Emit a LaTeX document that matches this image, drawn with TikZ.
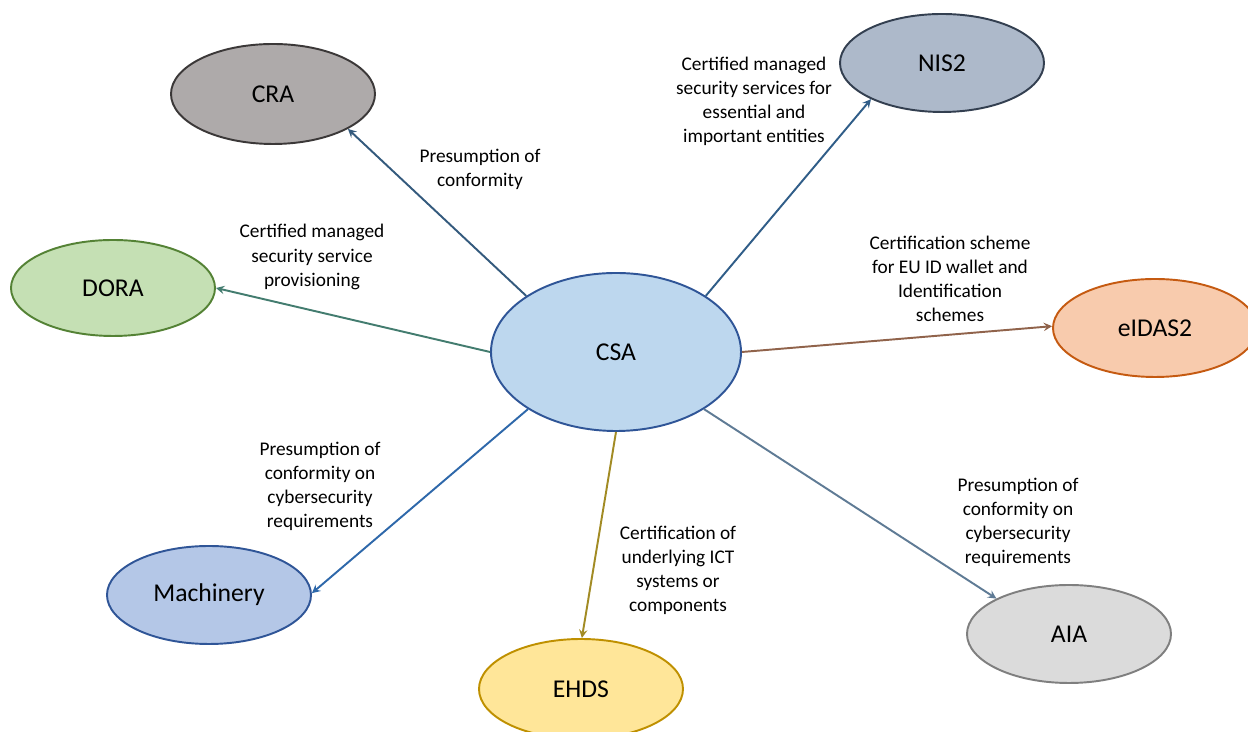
\documentclass[tikz,border=0pt]{standalone}
\usepackage{fontspec}
\setmainfont{Carlito}
\usetikzlibrary{arrows, shapes.geometric}

\definecolor{csafill}{HTML}{BDD7EE}
\definecolor{csaline}{HTML}{2F5597}
\definecolor{linkblue}{HTML}{2E75B6}
\definecolor{crafill}{HTML}{AEAAAA}
\definecolor{craline}{HTML}{3B3838}
\definecolor{nisfill}{HTML}{ADB9CA}
\definecolor{nisline}{HTML}{333F50}
\definecolor{dorafill}{HTML}{C5E0B4}
\definecolor{doraline}{HTML}{548235}
\definecolor{eidasfill}{HTML}{F8CBAD}
\definecolor{eidasline}{HTML}{C55A11}
\definecolor{machfill}{HTML}{B4C7E7}
\definecolor{machline}{HTML}{2F5597}
\definecolor{ehdsfill}{HTML}{FFE699}
\definecolor{ehdsline}{HTML}{BF9000}
\definecolor{aiafill}{HTML}{DBDBDB}
\definecolor{aialine}{HTML}{7F7F7F}

\begin{document}
\begin{tikzpicture}[
            > = stealth, % arrow head style
            line width = 1pt
        ]

        \tikzstyle{law}=[
            ellipse,
            line width = 1.1pt,
            inner sep = 0pt,
            minimum width = 4.08cm,
            minimum height = 1.96cm,
            font = \fontsize{14.6}{16}\selectfont
        ]
        \tikzstyle{note}=[
            align = center,
            font = \fontsize{11}{13.7}\selectfont
        ]
        \tikzstyle{link}=[
            ->,
            line width = 1.1pt
        ]

        \useasboundingbox (0,0) rectangle (24.96,14.64);

	\node[law, draw=csaline, fill=csafill, minimum width=5cm, minimum height=3.16cm] (csa) at (12.32,7.6) {CSA};
	\node[law, draw=craline, fill=crafill, minimum height=2cm] (cra) at (5.46,12.76) {CRA};
	\node[law, draw=nisline, fill=nisfill] (nis) at (18.84,13.38) {NIS2};
	\node[law, draw=doraline, fill=dorafill, minimum height=1.92cm] (dora) at (2.26,8.88) {DORA};
	\node[law, draw=eidasline, fill=eidasfill] (eidas) at (23.10,8.08) {eIDAS2};
	\node[law, draw=machline, fill=machfill] (mach) at (4.18,2.74) {Machinery};
	\node[law, draw=ehdsline, fill=ehdsfill, minimum height=2cm] (ehds) at (11.62,0.86) {EHDS};
	\node[law, draw=aialine, fill=aiafill] (aia) at (21.38,1.96) {AIA};

	\node[note] (ncra) at (9.60,11.26) {Presumption of\\conformity};
	\node[note] (nnis) at (15.08,12.62) {Certified managed\\security services for\\essential and\\important entities};
	\node[note] (ndora) at (6.24,9.50) {Certified managed\\security service\\provisioning};
	\node[note] (neidas) at (19.00,9.06) {Certification scheme\\for EU ID wallet and\\Identification\\schemes};
	\node[note] (nmach) at (6.40,4.92) {Presumption of\\conformity on\\cybersecurity\\requirements};
	\node[note] (nehds) at (13.56,3.24) {Certification of\\underlying ICT\\systems or\\components};
	\node[note] (naia) at (20.36,4.20) {Presumption of\\conformity on\\cybersecurity\\requirements};

        \draw[link, linkblue!55!craline] (csa.148) -- (cra.-25);
        \draw[link, linkblue!55!nisline] (csa.32) -- (nis.207);
        \draw[link, linkblue!45!doraline] (csa.180) -- (dora.0);
        \draw[link, linkblue!35!eidasline] (csa.0) -- (eidas.179);
        \draw[link, linkblue!60!machline] (csa.213) -- (mach.1);
        \draw[link, linkblue!20!ehdsline] (csa.270) -- (ehds.89);
        \draw[link, linkblue!40!aialine] (csa.-33) -- (aia.154);

    \end{tikzpicture}
\end{document}
